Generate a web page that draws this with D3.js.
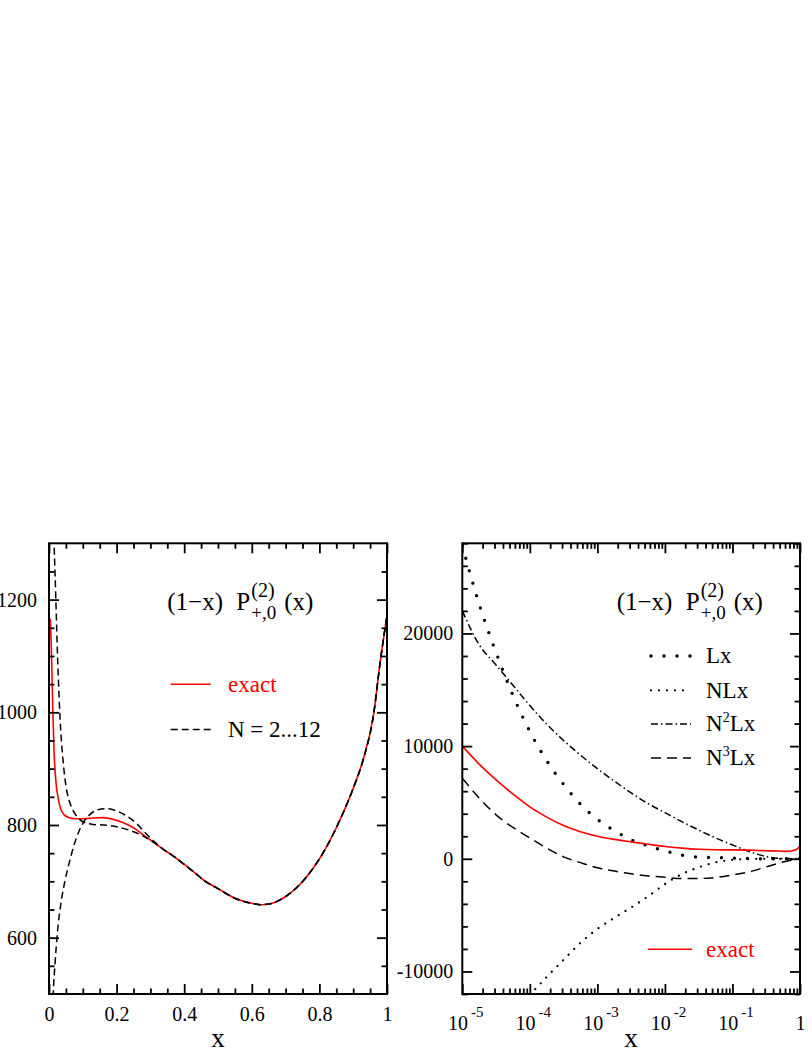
<!DOCTYPE html>
<html>
<head>
<meta charset="utf-8">
<script src="https://cdn.jsdelivr.net/npm/d3@7"></script>
<style>
  body { margin: 0; background: #fff; }
  svg { display: block; }
  text { font-family: "Liberation Serif", "Times New Roman", serif; }
</style>
</head>
<body>
<svg id="chart" width="812" height="1051"></svg>
<script>
// ---- left panel, linear x ----
const leftExactX = [0.004, 0.006, 0.008, 0.011, 0.015, 0.02, 0.027, 0.035, 0.045, 0.06, 0.08, 0.1, 0.13, 0.16, 0.19, 0.22, 0.25, 0.28, 0.31, 0.34, 0.37, 0.40, 0.43, 0.46, 0.50, 0.55, 0.60, 0.63, 0.66, 0.70, 0.74, 0.78, 0.82, 0.86, 0.90, 0.93, 0.96, 0.98, 1.0];
const leftExactY = [1166, 1130, 1090, 1010, 930, 880, 848, 828, 818, 813, 811, 811, 812.5, 813, 810, 804, 795, 782, 769, 756, 744, 730, 716, 701, 687, 670, 661, 658.5, 661, 673, 693, 722, 760, 808, 865, 917, 995, 1090, 1172];

// the two N = 2...12 curves, before they join the exact one (x > 0.34)
const approxUpX = [0.011, 0.015, 0.018, 0.021, 0.025, 0.03, 0.035, 0.04, 0.05, 0.06, 0.07, 0.08, 0.10, 0.13, 0.16, 0.19, 0.22, 0.25, 0.28, 0.31];
const approxUpY = [1390, 1300, 1245, 1185, 1105, 1025, 965, 925, 870, 843, 827, 817, 806, 801, 800, 798, 794, 788, 780, 769];
const approxLowX = [0.010, 0.0125, 0.018, 0.025, 0.035, 0.047, 0.062, 0.08, 0.10, 0.12, 0.145, 0.17, 0.20, 0.23, 0.26, 0.29, 0.32];
const approxLowY = [455, 500, 555, 610, 660, 700, 738, 775, 803, 818, 827, 829, 825, 816, 802, 783, 766];

const leftXTicks = [0, 0.2, 0.4, 0.6, 0.8, 1];
const leftYTicks = [600, 800, 1000, 1200];

// ---- right panel, log x (exponents of 10) ----
const rightExp = [-5, -4.75, -4.5, -4.25, -4, -3.75, -3.5, -3.25, -3, -2.75, -2.5, -2.25, -2, -1.75, -1.5, -1.25, -1, -0.75, -0.5, -0.25, 0];
const lxY   = [27800, 22600, 18300, 14500, 11300, 8700, 6600, 4850, 3500, 2500, 1700, 1150, 700, 330, 150, 110, 60, 20, 0, 0, 0];
const nlxY  = [null, null, null, null, -12100, -10490, -8970, -7460, -6230, -5250, -4320, -3340, -2250, -1370, -760, -320, -90, -20, 0, 0, 0];
const n2lxY = [22000, 19000, 17200, 15400, 13600, 11950, 10500, 9200, 8000, 6900, 5850, 4900, 4100, 3300, 2550, 1850, 1230, 650, 190, 20, 0];
const n3lxY = [7150, 5400, 3900, 2780, 1845, 945, 170, -340, -800, -1090, -1330, -1520, -1640, -1760, -1750, -1660, -1440, -1160, -720, -280, 0];

const exactLogExp = [-5, -4.75, -4.5, -4.25, -4, -3.75, -3.5, -3.25, -3, -2.75, -2.5, -2.25, -2, -1.75, -1.5, -1.25, -1, -0.75, -0.5, -0.3, -0.22, -0.15, -0.1, -0.05, -0.02, 0];
const exactLogY   = [10000, 8400, 7000, 5750, 4600, 3700, 2950, 2400, 2000, 1720, 1500, 1290, 1090, 950, 850, 800, 790, 765, 715, 687, 661, 672, 735, 850, 990, 1170];

const rightDecades = [1e-5, 1e-4, 1e-3, 1e-2, 1e-1, 1];
const rightYTicks = [-10000, 0, 10000, 20000];

const STYLE = {
  exact: { stroke: "#ff0000", width: 1.6 },
  approx: { stroke: "#000", width: 1.5, dash: "7,4" },
  lx: { stroke: "#000", width: 3.4, dash: "0,13", cap: "round" },
  nlx: { stroke: "#000", width: 2.3, dash: "0,8", cap: "round" },
  n2lx: { stroke: "#000", width: 1.5, dash: "7,3,1.5,3" },
  n3lx: { stroke: "#000", width: 1.5, dash: "10,6" }
};

const svg = d3.select("#chart");
const plotTop = 543.3;
const plotBottom = 994;

const xL = d3.scaleLinear().domain([0, 1]).range([49, 387]);
const yL = d3.scaleLinear().domain([500, 1300]).range([plotBottom, plotTop]);
const xR = d3.scaleLog().domain([1e-5, 1]).range([462.3, 800]);
const yR = d3.scaleLinear().domain([-12000, 28000]).range([plotBottom, plotTop]);

function styled(sel, s) {
  return sel
    .attr("fill", "none")
    .attr("stroke", s.stroke)
    .attr("stroke-width", s.width)
    .attr("stroke-dasharray", s.dash || null)
    .attr("stroke-linecap", s.cap || "butt");
}

function addAxis(axis, transform) {
  const g = svg.append("g").attr("transform", transform).call(axis);
  g.select(".domain").remove();
  g.attr("font-family", null).attr("font-size", 20);
  g.selectAll("line").attr("stroke-width", 1.8);
  g.selectAll("text").attr("fill", "#000");
  return g;
}

function clip(id, x0, x1) {
  svg.append("clipPath").attr("id", id)
    .append("rect").attr("x", x0).attr("y", plotTop).attr("width", x1 - x0).attr("height", plotBottom - plotTop);
}

function frame(x0, x1) {
  svg.append("rect")
    .attr("x", x0).attr("y", plotTop)
    .attr("width", x1 - x0).attr("height", plotBottom - plotTop)
    .attr("fill", "none").attr("stroke", "#000").attr("stroke-width", 2);
}

function title(x0) {
  const t = svg.append("text").attr("y", 610).attr("font-size", 25);
  t.append("tspan").attr("x", x0).text("(1\u2212x)");
  t.append("tspan").attr("x", x0 + 69).text("P");
  t.append("tspan").attr("x", x0 + 117).text("(x)");
  svg.append("text").attr("x", x0 + 84).attr("y", 597).attr("font-size", 20).text("(2)");
  svg.append("text").attr("x", x0 + 84).attr("y", 619).attr("font-size", 19).text("+,0");
}

function legendRow(x0, x1, y, s, tx, label, color) {
  styled(svg.append("line"), s).attr("x1", x0).attr("x2", x1).attr("y1", y).attr("y2", y);
  const t = svg.append("text").attr("x", tx).attr("y", y + 7.4).attr("font-size", 23).attr("fill", color || "#000");
  if (typeof label === "string") {
    t.text(label);
  } else {
    t.append("tspan").text(label[0]);
    t.append("tspan").attr("font-size", 14).attr("dy", -9).text(label[1]);
    t.append("tspan").attr("dy", 9).text(label[2]);
  }
}

// ================= left panel =================
clip("clipL", 49, 387);
const leftLine = d3.line().x(d => xL(d[0])).y(d => yL(d[1])).curve(d3.curveMonotoneX);
const leftExact = leftExactX.map((x, i) => [x, leftExactY[i]]);
const tail = leftExact.filter(d => d[0] > 0.33);
const upper = approxUpX.map((x, i) => [x, approxUpY[i]]).concat(tail);
const lower = approxLowX.map((x, i) => [x, approxLowY[i]]).concat(tail);

const gL = svg.append("g").attr("clip-path", "url(#clipL)");
styled(gL.append("path").datum(leftExact), STYLE.exact).attr("d", leftLine);
styled(gL.append("path").datum(upper), STYLE.approx).attr("d", leftLine);
styled(gL.append("path").datum(lower), STYLE.approx).attr("d", leftLine);

const leftMinorX = d3.range(1, 20).filter(i => i % 4 !== 0).map(i => i * 0.05);
const leftMinorY = d3.range(550, 1300, 50).filter(v => !leftYTicks.includes(v));

addAxis(d3.axisBottom(xL).tickValues(leftXTicks).tickSize(-10).tickPadding(12.5).tickFormat(d3.format("~g")), `translate(0,${plotBottom})`);
addAxis(d3.axisBottom(xL).tickValues(leftMinorX).tickSize(-5.5).tickFormat(""), `translate(0,${plotBottom})`);
addAxis(d3.axisTop(xL).tickValues(leftXTicks).tickSize(-10).tickFormat(""), `translate(0,${plotTop})`);
addAxis(d3.axisTop(xL).tickValues(leftMinorX).tickSize(-5.5).tickFormat(""), `translate(0,${plotTop})`);
addAxis(d3.axisLeft(yL).tickValues(leftYTicks).tickSize(-10).tickPadding(12).tickFormat(d => String(d)), "translate(49,0)");
addAxis(d3.axisLeft(yL).tickValues(leftMinorY).tickSize(-5.5).tickFormat(""), "translate(49,0)");
addAxis(d3.axisRight(yL).tickValues(leftYTicks).tickSize(-10).tickFormat(""), "translate(387,0)");
addAxis(d3.axisRight(yL).tickValues(leftMinorY).tickSize(-5.5).tickFormat(""), "translate(387,0)");
frame(49, 387);

title(167.3);
legendRow(170.7, 210.7, 684.3, STYLE.exact, 228, "exact", "#ff0000");
legendRow(170.7, 210.7, 729.6, STYLE.approx, 228, "N = 2...12");

svg.append("text").attr("x", 218).attr("y", 1047).attr("font-size", 27).attr("text-anchor", "middle").text("x");

// ================= right panel =================
clip("clipR", 462.3, 800);
const rightLine = d3.line()
  .x(d => xR(Math.pow(10, d[0])))
  .y(d => yR(d[1]))
  .curve(d3.curveMonotoneX);

const gR = svg.append("g").attr("clip-path", "url(#clipR)");
const series = [
  [rightExp, lxY, STYLE.lx],
  [rightExp, nlxY, STYLE.nlx],
  [rightExp, n2lxY, STYLE.n2lx],
  [rightExp, n3lxY, STYLE.n3lx],
  [exactLogExp, exactLogY, STYLE.exact]
];
for (const [xs, ys, s] of series) {
  const pts = xs.map((e, i) => [e, ys[i]]).filter(d => d[1] !== null);
  styled(gR.append("path").datum(pts), s).attr("d", rightLine);
}

const rightMinorX = [];
for (const d of rightDecades.slice(0, -1)) {
  for (let k = 2; k <= 9; k++) rightMinorX.push(k * d);
}
const rightMinorY = d3.range(-12000, 28001, 2000).filter(v => !rightYTicks.includes(v));

const xAxisR = addAxis(d3.axisBottom(xR).tickValues(rightDecades).tickSize(-10).tickFormat(""), `translate(0,${plotBottom})`);
xAxisR.selectAll(".tick").each(function (d) {
  const t = d3.select(this).append("text")
    .attr("y", 36).attr("text-anchor", "middle").attr("fill", "#000").attr("font-size", 20);
  if (d === 1) {
    t.text("1");
  } else {
    t.attr("x", 3);
    t.append("tspan").text("10");
    t.append("tspan").attr("font-size", 15).attr("dx", 3).attr("dy", -13).text(String(Math.round(Math.log10(d))));
  }
});
addAxis(d3.axisBottom(xR).tickValues(rightMinorX).tickSize(-5.5).tickFormat(""), `translate(0,${plotBottom})`);
addAxis(d3.axisTop(xR).tickValues(rightDecades).tickSize(-10).tickFormat(""), `translate(0,${plotTop})`);
addAxis(d3.axisTop(xR).tickValues(rightMinorX).tickSize(-5.5).tickFormat(""), `translate(0,${plotTop})`);
addAxis(d3.axisLeft(yR).tickValues(rightYTicks).tickSize(-10).tickPadding(9).tickFormat(d => String(d)), "translate(462.3,0)");
addAxis(d3.axisLeft(yR).tickValues(rightMinorY).tickSize(-5.5).tickFormat(""), "translate(462.3,0)");
addAxis(d3.axisRight(yR).tickValues(rightYTicks).tickSize(-10).tickFormat(""), "translate(800,0)");
addAxis(d3.axisRight(yR).tickValues(rightMinorY).tickSize(-5.5).tickFormat(""), "translate(800,0)");
frame(462.3, 800);

title(616.7);
legendRow(651, 691, 656, STYLE.lx, 706, "Lx");
legendRow(651, 691, 690.3, STYLE.nlx, 706, "NLx");
legendRow(651, 691, 724, STYLE.n2lx, 706, ["N", "2", "Lx"]);
legendRow(651, 691, 758, STYLE.n3lx, 706, ["N", "3", "Lx"]);
legendRow(648, 692, 949.3, STYLE.exact, 706, "exact", "#ff0000");

svg.append("text").attr("x", 631).attr("y", 1047).attr("font-size", 27).attr("text-anchor", "middle").text("x");
</script>
</body>
</html>
